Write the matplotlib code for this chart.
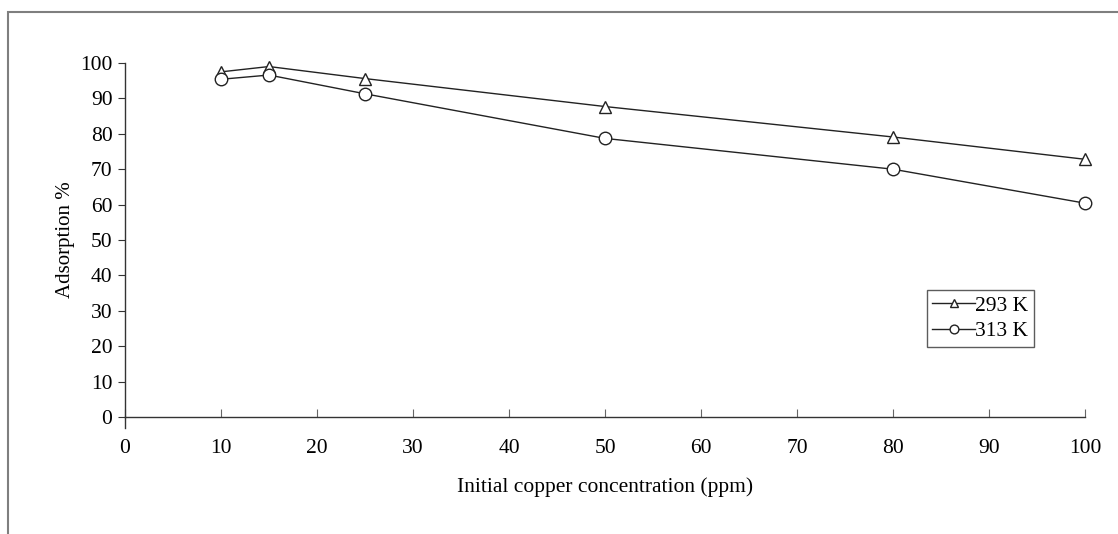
import matplotlib
matplotlib.use("Agg")
import matplotlib.pyplot as plt
from matplotlib.patches import Rectangle

# data
conc = [10, 15, 25, 50, 80, 100]
ads_293 = [97.5, 99.0, 95.6, 87.7, 79.1, 72.8]
ads_313 = [95.4, 96.6, 91.3, 78.7, 70.0, 60.4]
labels = ["293 K", "313 K"]

plt.rcParams['font.family'] = ['Liberation Serif', 'DejaVu Serif']

fig = plt.figure(figsize=(11.18, 5.34), dpi=100)
ax = fig.add_axes([125/1118, 1 - 417/534, 960/1118, 354/534])

# outer frame (cropped on right/bottom like the reference)
fig.patches.append(Rectangle((8/1118, -0.1), 1.2, 1 - 12/534 + 0.1,
                             transform=fig.transFigure, fill=False,
                             edgecolor='#7f7f7f', linewidth=1.5))

ax.plot(conc, ads_293, color='#222222', linewidth=1, marker='^', markersize=8,
        markerfacecolor='white', markeredgecolor='#222222', label=labels[0],
        clip_on=False)
ax.plot(conc, ads_313, color='#222222', linewidth=1, marker='o', markersize=9,
        markerfacecolor='white', markeredgecolor='#222222', label=labels[1],
        clip_on=False)

ax.set_xlim(0, 100)
ax.set_ylim(0, 100)
ax.set_xticks(range(0, 101, 10))
ax.set_yticks(range(0, 101, 10))
ax.spines['top'].set_visible(False)
ax.spines['right'].set_visible(False)
for s in ['left', 'bottom']:
    ax.spines[s].set_color('#333333')
    ax.spines[s].set_linewidth(1)
ax.tick_params(axis='x', direction='in', length=6, pad=16, labelsize=15.5,
               color='#666666')
ax.tick_params(axis='y', direction='out', length=5, pad=4, labelsize=15.5,
               color='#333333')
# little extension of the y axis below zero
ax.plot([0, 0], [0, -3], color='#333333', linewidth=1, clip_on=False)

ax.set_xlabel('Initial copper concentration (ppm)', fontsize=15.5, labelpad=14)
ax.set_ylabel('Adsorption %', fontsize=15, labelpad=4)

leg = ax.legend(loc='upper left', bbox_to_anchor=(0.835, 0.358), fontsize=15.5,
                frameon=True, fancybox=False, handlelength=2.0,
                handletextpad=0.0, borderpad=0.25, labelspacing=0.25,
                borderaxespad=0, markerscale=0.7)
leg.get_frame().set_edgecolor('#333333')
leg.get_frame().set_linewidth(1)

fig.savefig('out.png', dpi=100)
